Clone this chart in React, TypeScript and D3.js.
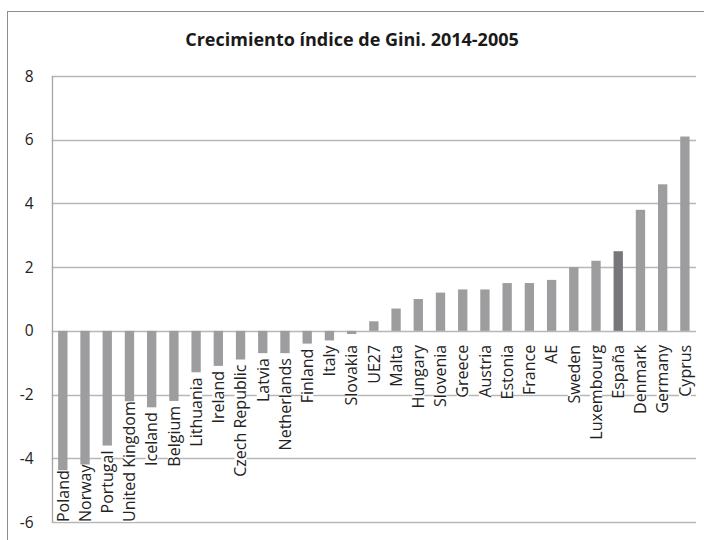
import React, { useEffect, useRef } from "react";
import * as d3 from "d3";

const categories = [
  "Poland", "Norway", "Portugal", "United Kingdom", "Iceland", "Belgium", "Lithuania",
  "Ireland", "Czech Republic", "Latvia", "Netherlands", "Finland", "Italy", "Slovakia",
  "UE27", "Malta", "Hungary", "Slovenia", "Greece", "Austria", "Estonia", "France", "AE",
  "Sweden", "Luxembourg", "España", "Denmark", "Germany", "Cyprus",
];
const values = [
  -4.8, -4.7, -3.6, -3.0, -2.4, -2.2, -1.3, -1.1, -0.9, -0.7, -0.7, -0.4, -0.3, -0.1,
  0.3, 0.7, 1.0, 1.2, 1.3, 1.3, 1.5, 1.5, 1.6, 2.0, 2.2, 2.5, 3.8, 4.6, 6.1,
];
const highlighted = ["España"];
const yTicks = [-6, -4, -2, 0, 2, 4, 6, 8];
const title = "Crecimiento índice de Gini. 2014-2005";

const W = 704;
const H = 540;
const M = { left: 51.7, right: 8, top: 76, bottom: 18 };
const FONT = "'Open Sans', 'Noto Sans', sans-serif";

export default function App() {
  const ref = useRef<SVGSVGElement>(null);

  useEffect(() => {
    const svg = d3.select(ref.current);
    svg.selectAll("*").remove();

    const x0 = M.left, x1 = W - M.right, yTop = M.top, yBot = H - M.bottom;

    // outer frame
    svg.append("rect")
      .attr("x", 7.5).attr("y", 11.5).attr("width", 720).attr("height", 560)
      .attr("fill", "#fff").attr("stroke", "#8e8e8e").attr("stroke-width", 1);

    const x = d3.scaleBand<string>().domain(categories).range([x0, x1])
      .paddingInner(0.58).paddingOuter(0.29);
    const y = d3.scaleLinear().domain([-6, 8]).range([yBot, yTop]);

    // title
    svg.append("text")
      .attr("x", 352).attr("y", 46).attr("text-anchor", "middle")
      .attr("font-family", FONT).attr("font-weight", "bold").attr("font-size", 18)
      .attr("fill", "#1a1a1a").text(title);

    // gridlines
    svg.append("g").selectAll("line").data(yTicks).join("line")
      .attr("x1", x0).attr("x2", x1)
      .attr("y1", (d) => Math.round(y(d)) + 0.5).attr("y2", (d) => Math.round(y(d)) + 0.5)
      .attr("stroke", "#b7b7b7").attr("stroke-width", 1.3);

    // y axis line
    svg.append("line")
      .attr("x1", Math.round(x0) + 0.5).attr("x2", Math.round(x0) + 0.5)
      .attr("y1", y(8)).attr("y2", y(-6))
      .attr("stroke", "#a6a6a6").attr("stroke-width", 1.3);

    // y tick labels
    svg.append("g").selectAll("text").data(yTicks).join("text")
      .attr("x", 33.5).attr("y", (d) => y(d)).attr("dy", "0.36em")
      .attr("text-anchor", "end").attr("font-family", FONT).attr("font-size", 15.5)
      .attr("fill", "#222").text((d) => String(d));

    // bars
    svg.append("g").selectAll("rect").data(categories).join("rect")
      .attr("x", (d) => x(d)!)
      .attr("width", x.bandwidth())
      .attr("y", (d, i) => y(Math.max(0, values[i])))
      .attr("height", (d, i) => Math.abs(y(values[i]) - y(0)))
      .attr("fill", (d) => (highlighted.includes(d) ? "#77777b" : "#9d9da0"));

    // category labels (rotated, placed below bar end / axis)
    const lg = svg.append("g");
    categories.forEach((c, i) => {
      const cx = x(c)! + x.bandwidth() / 2;
      const t = lg.append("text")
        .attr("font-family", FONT).attr("font-size", 16).attr("fill", "#222")
        .attr("text-anchor", "end").attr("dy", "0.36em").text(c);
      const len = (t.node() as SVGTextElement).getComputedTextLength();
      let top = Math.max(y(0) + 14, y(values[i]) + 5);
      if (top + len > yBot) top = yBot - len;
      // white backing so labels sit over bars
      lg.insert("rect", () => t.node() as any)
        .attr("x", cx - 6).attr("y", top).attr("width", 12).attr("height", len)
        .attr("fill", "#fff");
      t.attr("transform", `translate(${cx},${top}) rotate(-90)`);
    });
  }, []);

  return (
    <svg
      ref={ref}
      width={W}
      height={H}
      style={{ position: "absolute", left: 0, top: 0, background: "#fff" }}
    />
  );
}
